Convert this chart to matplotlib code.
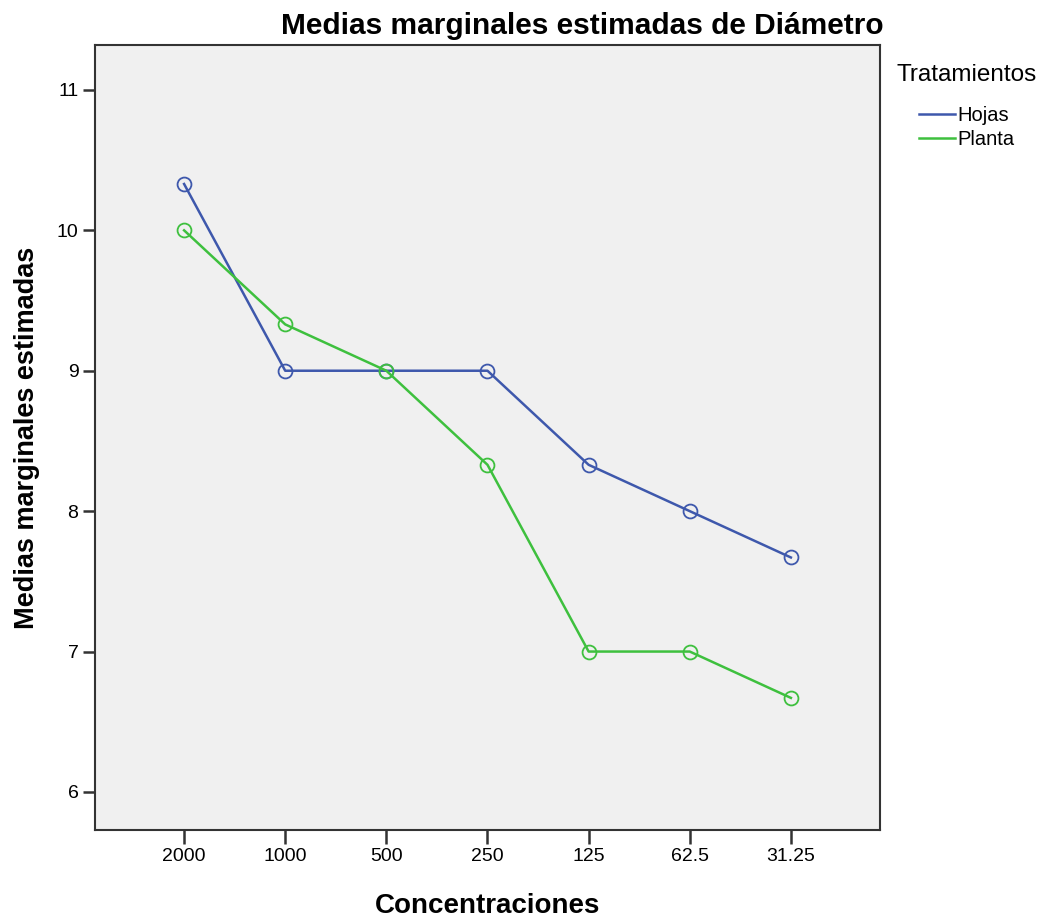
import matplotlib.pyplot as plt

plt.rcParams['font.family'] = ['Liberation Sans', 'DejaVu Sans']

concentraciones = ['2000', '1000', '500', '250', '125', '62.5', '31.25']
hojas = [10.33, 9.0, 9.0, 9.0, 8.33, 8.0, 7.67]
planta = [10.0, 9.33, 9.0, 8.33, 7.0, 7.0, 6.67]
yticks = [6, 7, 8, 9, 10, 11]

azul = '#3e58ac'
verde = '#3ec03e'

fig = plt.figure(figsize=(10.45, 9.18), dpi=100)
ax = fig.add_axes([0.091, 0.096, 0.751, 0.855])
ax.set_facecolor('#f0f0f0')

x = list(range(len(concentraciones)))
l1, = ax.plot(x, hojas, color=azul, lw=1.8, marker='o', ms=10,
              mfc='none', mec=azul, mew=1.3, label='Hojas')
l2, = ax.plot(x, planta, color=verde, lw=1.8, marker='o', ms=10,
              mfc='none', mec=verde, mew=1.3, label='Planta')

ax.set_xlim(-0.88, 6.88)
ax.set_ylim(5.73, 11.32)
ax.set_xticks(x)
ax.set_xticklabels(concentraciones, fontsize=14)
ax.set_yticks(yticks)
ax.set_yticklabels([str(v) for v in yticks], fontsize=14)
ax.tick_params(axis='x', length=10, width=1.8, color='#333333', pad=3)
ax.tick_params(axis='y', length=9, width=1.8, color='#333333', pad=3)
for s in ax.spines.values():
    s.set_color('#333333')
    s.set_linewidth(1.5)

ax.set_xlabel('Concentraciones', fontsize=20, fontweight='bold', labelpad=20)
ax.set_ylabel('Medias marginales estimadas', fontsize=19.5, fontweight='bold', labelpad=12)
fig.text(0.557, 0.972, 'Medias marginales estimadas de Diámetro', fontsize=21.5,
         fontweight='bold', ha='center', va='center')

# legend: title as plain text, entries indented below it
fig.text(0.858, 0.918, 'Tratamientos', fontsize=17.5, ha='left', va='center')
leg = fig.legend(handles=[l1, l2], labels=['Hojas', 'Planta'],
                 loc='center left', bbox_to_anchor=(0.879, 0.861), frameon=False,
                 fontsize=14.5, handlelength=1.8, handletextpad=0.15,
                 labelspacing=0.25, borderaxespad=0, borderpad=0)
for h in leg.legend_handles:
    h.set_marker('')

fig.savefig('out.png', dpi=100)
